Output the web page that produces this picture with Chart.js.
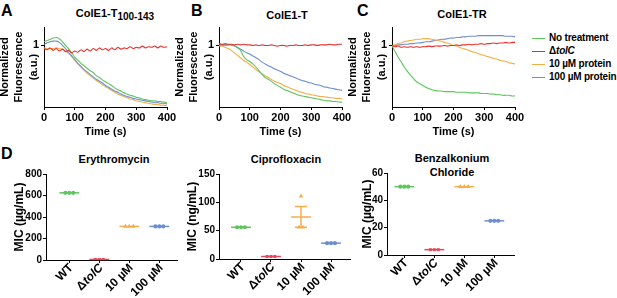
<!DOCTYPE html>
<html>
<head>
<meta charset="utf-8">
<script src="https://cdn.jsdelivr.net/npm/chart.js@4.4.1/dist/chart.umd.min.js"></script>
<style>
  body { margin: 0; background: #fff; }
  #fig { position: relative; width: 617px; height: 298px; overflow: hidden; font-family: "Liberation Sans", Arial, sans-serif; }
  #fig canvas { position: absolute; }
  .t { position: absolute; font-weight: bold; color: #000; white-space: nowrap; line-height: 1; transform: translate(-50%, -50%); }
  .t sub { font-size: 10px; vertical-align: -3px; }
  .letter { position: absolute; font-weight: bold; font-size: 16px; line-height: 1; color: #000; }
  .leg { position: absolute; left: 532px; font-size: 10px; font-weight: bold; line-height: 1; white-space: nowrap; letter-spacing: -0.2px; }
  .leg span.ln { display: inline-block; width: 13px; height: 0; border-top: 1.5px solid; vertical-align: middle; margin-right: 4px; }
</style>
</head>
<body>
<div id="fig">
  <div class="letter" style="left:1px;top:3px">A</div>
  <div class="letter" style="left:191px;top:3px">B</div>
  <div class="letter" style="left:357px;top:3px">C</div>
  <div class="letter" style="left:1px;top:146px">D</div>

  <div class="t" style="left:115px;top:15px;font-size:11px">ColE1-T<sub>100-143</sub></div>
  <div class="t" style="left:287px;top:15px;font-size:11px">ColE1-T</div>
  <div class="t" style="left:462px;top:14px;font-size:11px">ColE1-TR</div>

  <div class="t" style="left:114px;top:159px;font-size:11px">Erythromycin</div>
  <div class="t" style="left:286px;top:159px;font-size:11px">Ciprofloxacin</div>
  <div class="t" style="left:452px;top:158px;font-size:11px">Benzalkonium</div>
  <div class="t" style="left:452px;top:172px;font-size:11px">Chloride</div>

  <div class="leg" style="top:33px"><span class="ln" style="color:#5ec55e"></span>No treatment</div>
  <div class="leg" style="top:46px"><span class="ln" style="color:#e8302a"></span>Δ<i>tolC</i></div>
  <div class="leg" style="top:59px"><span class="ln" style="color:#f3ae4b"></span>10 µM protein</div>
  <div class="leg" style="top:72px"><span class="ln" style="color:#6d8fd1"></span>100 µM protein</div>
</div>
<script>
// ---- data ----
const times = [0, 10, 20, 30, 40, 50, 60, 70, 80, 90, 100, 110, 120, 130, 140, 150, 160, 170, 180, 190, 200,
  210, 220, 230, 240, 250, 260, 270, 280, 290, 300, 310, 320, 330, 340, 350, 360, 370, 380, 390, 400];
const timeTicks = [0, 100, 200, 300, 400];

// A: ColE1-T100-143
const aNoTreatment = [1.06, 1.08, 1.10, 1.12, 1.13, 1.11, 1.06, 1.00, 0.95, 0.88, 0.81, 0.76, 0.71, 0.67, 0.63, 0.59, 0.56, 0.51, 0.48, 0.44, 0.41,
  0.38, 0.35, 0.31, 0.28, 0.26, 0.23, 0.21, 0.19, 0.18, 0.16, 0.15, 0.13, 0.12, 0.11, 0.10, 0.10, 0.09, 0.09, 0.08, 0.07];
const aTolC = [0.95, 0.93, 0.96, 0.92, 0.95, 0.91, 0.94, 0.90, 0.92, 0.88, 0.91, 0.89, 0.93, 0.90, 0.94, 0.91, 0.95, 0.92, 0.96, 0.93, 0.95,
  0.92, 0.96, 0.93, 0.97, 0.94, 0.96, 0.95, 0.98, 0.95, 0.97, 0.96, 0.99, 0.96, 0.98, 0.97, 0.99, 0.96, 0.99, 0.97, 0.98];
const a10uM = [0.96, 0.95, 0.95, 0.95, 0.96, 0.95, 0.94, 0.91, 0.87, 0.82, 0.76, 0.70, 0.65, 0.60, 0.55, 0.51, 0.47, 0.43, 0.40, 0.36, 0.33,
  0.30, 0.27, 0.24, 0.21, 0.19, 0.17, 0.15, 0.13, 0.12, 0.10, 0.09, 0.08, 0.07, 0.06, 0.05, 0.04, 0.04, 0.03, 0.03, 0.02];
const a100uM = [1.02, 1.04, 1.06, 1.07, 1.07, 1.05, 1.00, 0.95, 0.89, 0.83, 0.77, 0.71, 0.66, 0.61, 0.57, 0.53, 0.49, 0.45, 0.42, 0.39, 0.35,
  0.32, 0.29, 0.26, 0.24, 0.21, 0.19, 0.17, 0.16, 0.14, 0.13, 0.12, 0.11, 0.10, 0.09, 0.08, 0.07, 0.07, 0.06, 0.06, 0.05];

// B: ColE1-T
const bNoTreatment = [0.99, 1.00, 1.00, 1.01, 1.01, 0.99, 0.96, 0.92, 0.82, 0.77, 0.74, 0.70, 0.65, 0.59, 0.53, 0.48, 0.45, 0.42, 0.38, 0.35, 0.32,
  0.29, 0.27, 0.25, 0.23, 0.21, 0.19, 0.18, 0.17, 0.16, 0.15, 0.14, 0.13, 0.12, 0.11, 0.10, 0.10, 0.09, 0.09, 0.08, 0.08];
const bTolC = [1.03, 1.02, 1.03, 1.02, 1.02, 1.01, 1.02, 1.01, 1.02, 1.01, 1.01, 1.00, 1.01, 1.00, 1.01, 1.00, 1.00, 1.01, 1.00, 0.99, 1.00,
  1.00, 0.99, 1.00, 1.00, 1.01, 1.00, 1.00, 1.01, 1.00, 1.01, 1.01, 1.00, 1.01, 1.01, 1.01, 1.02, 1.01, 1.01, 1.02, 1.02];
const b10uM = [1.00, 0.99, 0.97, 0.95, 0.92, 0.88, 0.84, 0.80, 0.76, 0.73, 0.69, 0.65, 0.61, 0.57, 0.54, 0.51, 0.48, 0.45, 0.42, 0.40, 0.38,
  0.35, 0.33, 0.31, 0.29, 0.27, 0.25, 0.24, 0.22, 0.21, 0.20, 0.19, 0.18, 0.17, 0.17, 0.16, 0.15, 0.15, 0.14, 0.14, 0.13];
const b100uM = [1.00, 1.01, 1.01, 1.01, 1.01, 1.00, 0.97, 0.94, 0.91, 0.88, 0.86, 0.83, 0.80, 0.77, 0.73, 0.70, 0.67, 0.65, 0.62, 0.60, 0.58,
  0.55, 0.53, 0.51, 0.49, 0.47, 0.45, 0.43, 0.42, 0.40, 0.39, 0.37, 0.36, 0.35, 0.33, 0.32, 0.31, 0.30, 0.29, 0.28, 0.27];

// C: ColE1-TR
const cNoTreatment = [1.00, 0.90, 0.81, 0.73, 0.65, 0.58, 0.52, 0.46, 0.41, 0.38, 0.35, 0.32, 0.30, 0.28, 0.27, 0.26, 0.26, 0.25, 0.25, 0.25, 0.25,
  0.24, 0.24, 0.24, 0.24, 0.23, 0.23, 0.23, 0.23, 0.22, 0.22, 0.22, 0.21, 0.21, 0.20, 0.20, 0.19, 0.19, 0.19, 0.18, 0.18];
const cTolC = [1.00, 0.98, 0.99, 0.97, 0.98, 0.97, 0.98, 0.97, 0.98, 0.97, 0.98, 0.98, 0.99, 0.98, 0.99, 0.99, 0.99, 1.00, 0.99, 1.00, 1.00,
  1.01, 1.00, 1.01, 1.01, 1.02, 1.01, 1.02, 1.02, 1.03, 1.02, 1.03, 1.03, 1.04, 1.03, 1.04, 1.04, 1.05, 1.04, 1.05, 1.05];
const c10uM = [1.00, 1.01, 1.03, 1.04, 1.06, 1.07, 1.08, 1.09, 1.10, 1.10, 1.11, 1.11, 1.11, 1.10, 1.09, 1.08, 1.07, 1.05, 1.04, 1.02, 1.00,
  0.99, 0.97, 0.95, 0.94, 0.92, 0.90, 0.89, 0.87, 0.85, 0.84, 0.82, 0.81, 0.79, 0.78, 0.76, 0.75, 0.74, 0.72, 0.71, 0.70];
const c100uM = [1.00, 1.00, 1.01, 1.01, 1.02, 1.02, 1.03, 1.03, 1.04, 1.04, 1.05, 1.06, 1.06, 1.07, 1.08, 1.09, 1.10, 1.10, 1.11, 1.12, 1.12,
  1.13, 1.13, 1.14, 1.14, 1.15, 1.15, 1.15, 1.16, 1.16, 1.16, 1.16, 1.16, 1.16, 1.16, 1.16, 1.16, 1.15, 1.15, 1.15, 1.14];

// D: MIC values, three replicates per group
const groupLabels = ['WT', 'ΔtolC', '10 µM', '100 µM'];
const eryMIC = [[625, 625, 625], [5, 5, 5], [312.5, 312.5, 312.5], [312.5, 312.5, 312.5]];
const cipMIC = [[56, 56, 56], [4.4, 4.4, 4.4], [56, 56, 111], [28, 28, 28]];
const bznMIC = [[50, 50, 50], [3.9, 3.9, 3.9], [50, 50, 50], [25, 25, 25]];
const eryTicks = [0, 200, 400, 600, 800];
const cipTicks = [0, 50, 100, 150];
const bznTicks = [0, 20, 40, 60];

// ---- styling ----
const GREEN = '#5ec55e', RED = '#e8302a', ORANGE = '#f3ae4b', BLUE = '#6d8fd1';
const D_COLORS = ['#5ec55e', '#e8475a', '#f3ae4b', '#6d8fd1'];
const D_MARKERS = ['circle', 'rect', 'triangle', 'circle'];
const FONT = "'Liberation Sans', Arial, sans-serif";

Chart.defaults.font.family = FONT;
Chart.defaults.font.weight = 'bold';
Chart.defaults.font.size = 11;
Chart.defaults.color = '#000';

function addCanvas(left, top, w, h) {
  const c = document.createElement('canvas');
  c.width = w; c.height = h;
  c.style.left = left + 'px'; c.style.top = top + 'px';
  document.getElementById('fig').appendChild(c);
  return c;
}

const axisGrid = { display: true, drawOnChartArea: false, drawTicks: true, tickLength: 3, color: '#000', lineWidth: 1 };
const axisBorder = { display: true, color: '#000', width: 1 };

function kineticsChart(box, series) {
  // series order: drawn first = on top
  const ds = series.map(s => ({
    data: times.map((t, k) => ({ x: t, y: s.values[k] })),
    borderColor: s.color, borderWidth: 1.1, pointRadius: 0, tension: 0.3, fill: false
  }));
  return new Chart(addCanvas(box.left, box.top, box.w, box.h), {
    type: 'line',
    data: { datasets: ds },
    options: {
      responsive: false, animation: false, events: [],
      layout: { padding: { top: box.pt, right: box.pr, left: 0, bottom: 0 } },
      plugins: { legend: { display: false }, tooltip: { enabled: false } },
      scales: {
        x: {
          type: 'linear', min: 0, max: 400,
          afterBuildTicks: s => { s.ticks = timeTicks.map(v => ({ value: v })); },
          afterFit: s => { s.height = box.xh; },
          grid: axisGrid, border: axisBorder,
          ticks: { padding: 1, maxRotation: 0, autoSkip: false, callback: v => String(v) },
          title: { display: true, text: 'Time (s)', padding: { top: 0, bottom: 0 } }
        },
        y: {
          type: 'linear', min: 0, max: 1.3,
          afterBuildTicks: s => { s.ticks = [{ value: 1 }]; },
          afterFit: s => { s.width = box.yw; },
          grid: axisGrid, border: axisBorder,
          ticks: { padding: 2, callback: v => String(v) },
          title: { display: true, text: ['Normalized', 'Fluorescence', '(a.u.)'], padding: { top: 0, bottom: 0 },
                   font: { size: 11, weight: 'bold', lineHeight: 1.3 } }
        }
      }
    }
  });
}

function spreadOffsets(vals) {
  // place identical replicates side by side, as the scatter-dot plot does
  return vals.map((v, i) => {
    const same = vals.map((w, j) => [w, j]).filter(p => p[0] === v).map(p => p[1]);
    const k = same.indexOf(i);
    return (k - (same.length - 1) / 2) * 0.13;
  });
}

function stats(vals) {
  const n = vals.length;
  const mean = vals.reduce((a, b) => a + b, 0) / n;
  const sd = Math.sqrt(vals.reduce((a, b) => a + (b - mean) * (b - mean), 0) / (n - 1));
  return { mean, sem: sd / Math.sqrt(n) };
}

const micDecor = {
  id: 'micDecor',
  beforeDatasetsDraw(chart) {
    const { ctx, scales: { x, y } } = chart;
    const groups = chart.options.plugins.micDecor.groups;
    ctx.save();
    ctx.lineWidth = 1.5;
    groups.forEach((vals, gi) => {
      const { mean, sem } = stats(vals);
      const xc = gi + 1;
      ctx.strokeStyle = D_COLORS[gi];
      ctx.beginPath();
      ctx.moveTo(x.getPixelForValue(xc - 0.33), y.getPixelForValue(mean));
      ctx.lineTo(x.getPixelForValue(xc + 0.33), y.getPixelForValue(mean));
      if (sem > 0) {
        ctx.moveTo(x.getPixelForValue(xc), y.getPixelForValue(mean - sem));
        ctx.lineTo(x.getPixelForValue(xc), y.getPixelForValue(mean + sem));
        [mean - sem, mean + sem].forEach(v => {
          ctx.moveTo(x.getPixelForValue(xc - 0.2), y.getPixelForValue(v));
          ctx.lineTo(x.getPixelForValue(xc + 0.2), y.getPixelForValue(v));
        });
      }
      ctx.stroke();
    });
    ctx.restore();
  },
  afterDraw(chart) {
    const { ctx, scales: { x } } = chart;
    ctx.save();
    ctx.fillStyle = '#000';
    ctx.textBaseline = 'middle';
    ctx.textAlign = 'left';
    groupLabels.forEach((lab, i) => {
      const parts = lab.startsWith('Δ')
        ? [['Δ', 'bold 12px ' + FONT], [lab.slice(1), 'italic bold 12px ' + FONT]]
        : [[lab, 'bold 12px ' + FONT]];
      let w = 0;
      parts.forEach(p => { ctx.font = p[1]; w += ctx.measureText(p[0]).width; });
      ctx.save();
      ctx.translate(x.getPixelForValue(i + 1) + 2, x.top + 6);
      ctx.rotate(-Math.PI / 4);
      let cx = -w;
      parts.forEach(p => { ctx.font = p[1]; ctx.fillText(p[0], cx, 0); cx += ctx.measureText(p[0]).width; });
      ctx.restore();
    });
    ctx.restore();
  }
};

function micChart(box, groups, yTicks, yTitle) {
  const ds = groups.map((vals, gi) => {
    const offs = spreadOffsets(vals);
    return {
      data: vals.map((v, k) => ({ x: gi + 1 + offs[k], y: v })),
      pointStyle: D_MARKERS[gi], pointRadius: D_MARKERS[gi] === 'triangle' ? 2.6 : 2.1,
      backgroundColor: D_COLORS[gi], borderColor: D_COLORS[gi], borderWidth: 0
    };
  });
  return new Chart(addCanvas(box.left, box.top, box.w, box.h), {
    type: 'scatter',
    data: { datasets: ds },
    plugins: [micDecor],
    options: {
      responsive: false, animation: false, events: [],
      layout: { padding: { top: box.pt, right: box.pr, left: 0, bottom: 0 } },
      plugins: { legend: { display: false }, tooltip: { enabled: false }, micDecor: { groups } },
      scales: {
        x: {
          type: 'linear', min: box.xmin, max: box.xmax,
          afterBuildTicks: s => { s.ticks = groupLabels.map((l, i) => ({ value: i + 1 })); },
          afterFit: s => { s.height = box.xh; },
          grid: axisGrid, border: axisBorder,
          ticks: { display: false }
        },
        y: {
          type: 'linear', min: yTicks[0], max: yTicks[yTicks.length - 1],
          afterBuildTicks: s => { s.ticks = yTicks.map(v => ({ value: v })); },
          afterFit: s => { s.width = box.yw; },
          grid: axisGrid, border: axisBorder,
          ticks: { padding: 1, font: { size: 10, weight: 'bold' }, callback: v => String(v) },
          title: { display: true, text: yTitle, padding: { top: 0, bottom: 0 }, font: { size: 12, weight: 'bold' } }
        }
      }
    }
  });
}

// ---- panels A-C ----
const kBox = { w: 181, h: 125, top: 14, pt: 13, pr: 12, xh: 32, yw: 46 };
kineticsChart(Object.assign({}, kBox, { left: -2 }), [
  { values: aTolC, color: RED }, { values: aNoTreatment, color: GREEN },
  { values: a100uM, color: BLUE }, { values: a10uM, color: ORANGE }
]);
kineticsChart(Object.assign({}, kBox, { left: 173 }), [
  { values: bTolC, color: RED }, { values: bNoTreatment, color: GREEN },
  { values: b10uM, color: ORANGE }, { values: b100uM, color: BLUE }
]);
kineticsChart(Object.assign({}, kBox, { left: 346 }), [
  { values: cTolC, color: RED }, { values: c10uM, color: ORANGE },
  { values: c100uM, color: BLUE }, { values: cNoTreatment, color: GREEN }
]);

// ---- panel D ----
micChart({ left: 12, top: 165, w: 170, h: 133, pt: 9, pr: 5, xh: 38, yw: 34, xmin: 0.223, xmax: 4.59 },
  eryMIC, eryTicks, 'MIC (µg/mL)');
micChart({ left: 185, top: 165, w: 170, h: 133, pt: 9, pr: 5, xh: 39, yw: 34, xmin: 0.267, xmax: 4.633 },
  cipMIC, cipTicks, 'MIC (ng/mL)');
micChart({ left: 360, top: 164, w: 159, h: 134, pt: 9, pr: 5, xh: 43, yw: 27, xmin: 0.423, xmax: 4.657 },
  bznMIC, bznTicks, 'MIC (µg/mL)');
</script>
</body>
</html>
